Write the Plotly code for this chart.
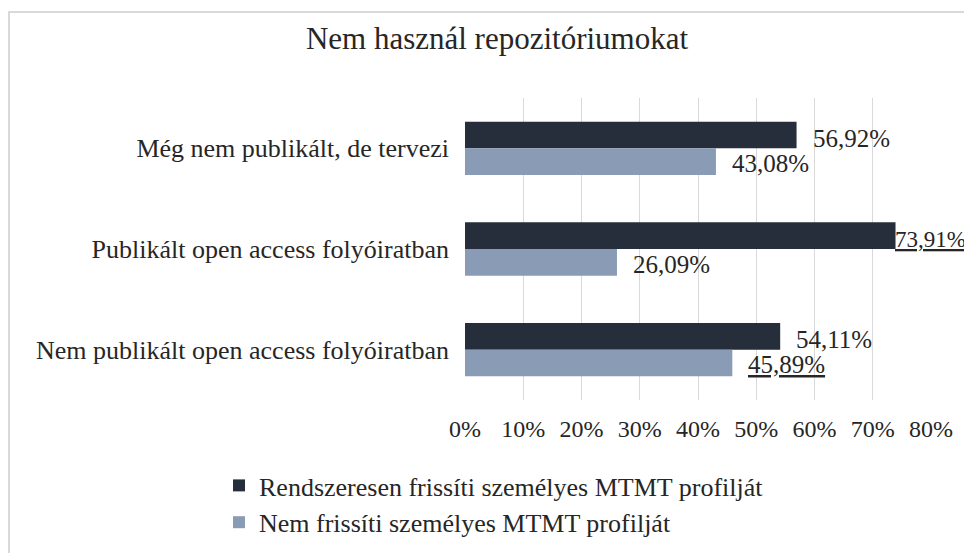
import plotly.graph_objects as go

# data
categories = [
    "Még nem publikált, de tervezi",
    "Publikált open access folyóiratban",
    "Nem publikált open access folyóiratban",
]
regular_update = [56.92, 73.91, 54.11]
no_update = [43.08, 26.09, 45.89]
series_names = [
    "Rendszeresen frissíti személyes MTMT profilját",
    "Nem frissíti személyes MTMT profilját",
]
tick_vals = [0, 10, 20, 30, 40, 50, 60, 70, 80]
tick_text = [f"{v}%" for v in tick_vals]
title_text = "Nem használ repozitóriumokat"

DARK = "#262e3b"
LIGHT = "#8a9bb5"
TXT = "#262626"
FONT = "Liberation Serif, Times New Roman, serif"

W, H = 972, 553
OFF = 8  # the page body adds an 8px margin around the plot


def pct(v):
    return f"{v:.2f}".replace(".", ",") + "%"


fig = go.Figure()
for name, vals, color, grp in [
    (series_names[0], regular_update, DARK, "a"),
    (series_names[1], no_update, LIGHT, "b"),
]:
    fig.add_trace(
        go.Bar(
            name=name,
            y=categories,
            x=vals,
            orientation="h",
            marker=dict(color=color, line=dict(width=0)),
            legendgroup=grp,
        )
    )

# value labels to the right of each bar end
# (two of them carry an underline in the original picture,
#  the longest one sits right against its bar and is a bit smaller to fit)
underlined = {(0, 1), (1, 2)}
tight = {(0, 1)}
annotations = []
for i, cat in enumerate(categories):
    for s, (vals, yshift) in enumerate([(regular_update, 10), (no_update, -15)]):
        txt = pct(vals[i])
        if (s, i) in underlined:
            txt = f"<u>{txt}</u>"
        snug = (s, i) in tight
        annotations.append(
            dict(
                x=vals[i],
                y=cat,
                xref="x",
                yref="y",
                text=txt,
                showarrow=False,
                xanchor="left",
                yanchor="middle",
                xshift=-3 if snug else 14,
                yshift=yshift,
                font=dict(family=FONT, size=23 if snug else 25, color=TXT),
            )
        )

# plot area in screen pixels: x 465..931, y 98..400
left, right, top, bottom = 465 - OFF, 931 - OFF, 98 - OFF, 400 - OFF

fig.update_layout(
    width=W,
    height=H,
    paper_bgcolor="white",
    plot_bgcolor="white",
    margin=dict(l=left, r=W - right, t=top, b=H - bottom, autoexpand=False),
    barmode="group",
    bargap=0.47,
    bargroupgap=0,
    font=dict(family=FONT, size=24, color=TXT),
    title=dict(
        text=title_text,
        font=dict(family=FONT, size=31, color=TXT),
        x=(497 - OFF) / W,
        xref="container",
        xanchor="center",
        y=1 - (38 - OFF) / H,
        yref="container",
        yanchor="middle",
    ),
    xaxis=dict(
        range=[0, 80],
        tickmode="array",
        tickvals=tick_vals,
        ticktext=tick_text,
        showgrid=True,
        gridcolor="#d9d9d9",
        gridwidth=1,
        zeroline=False,
        showline=False,
        ticklabelstandoff=12,
        tickfont=dict(family=FONT, size=24, color=TXT),
        fixedrange=True,
    ),
    yaxis=dict(
        autorange="reversed",
        showgrid=False,
        zeroline=False,
        showline=False,
        ticklabelstandoff=15,
        tickfont=dict(family=FONT, size=26, color=TXT),
        fixedrange=True,
    ),
    legend=dict(
        xref="container",
        yref="container",
        x=(219 - OFF) / W,
        y=1 - (462 - OFF) / H,
        xanchor="left",
        yanchor="top",
        orientation="v",
        tracegroupgap=0,
        font=dict(family=FONT, size=26, color=TXT),
        itemwidth=30,
    ),
    annotations=annotations,
    shapes=[
        dict(
            type="rect",
            xref="paper",
            yref="paper",
            x0=(1 - left) / (right - left),
            x1=(W + 20 - left) / (right - left),
            y0=(bottom - H - 20) / (bottom - top),
            y1=(bottom - 4) / (bottom - top),
            line=dict(color="#d9d9d9", width=2),
            fillcolor="rgba(0,0,0,0)",
            layer="below",
        )
    ],
)

fig.write_html("out.html")
